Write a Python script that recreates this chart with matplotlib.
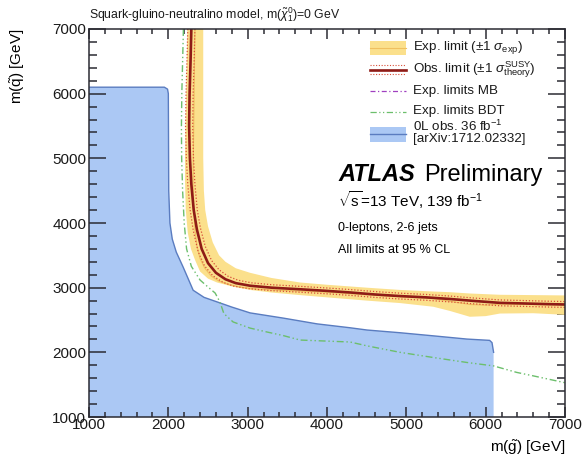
import matplotlib
matplotlib.use("Agg")
import matplotlib.pyplot as plt
from matplotlib.lines import Line2D
from matplotlib.patches import Rectangle

plt.rcParams['font.family'] = ['Liberation Sans', 'DejaVu Sans']
plt.rcParams['mathtext.fontset'] = 'custom'
plt.rcParams['mathtext.rm'] = 'Liberation Sans'
plt.rcParams['mathtext.it'] = 'Liberation Sans:italic'
plt.rcParams['mathtext.bf'] = 'Liberation Sans:bold'

# ---------------- data (m_gluino, m_squark) in GeV ----------------
blue_g = [1000, 1000, 1950, 1990, 2000, 2005, 2020, 2050, 2100, 2186, 2313, 2450, 2614, 2800,
          3030, 3446, 3875, 4290, 4505, 4921, 5340, 5765, 6050, 6080, 6100, 6100]
blue_q = [1000, 6100, 6100, 6070, 6000, 4500, 4000, 3750, 3550, 3320, 2960, 2850, 2780, 2700,
          2610, 2530, 2440, 2380, 2345, 2303, 2255, 2205, 2185, 2150, 2000, 1000]

band_up_g = [2440, 2440, 2440, 2448, 2465, 2500, 2560, 2640, 2720, 2850, 3030, 3300, 3660, 4000,
             4500, 4920, 5350, 5550, 5800, 6180, 6600, 7000]
band_up_q = [7000, 6000, 5000, 4500, 4200, 3950, 3700, 3500, 3400, 3300, 3230, 3150, 3080, 3045,
             3000, 2965, 2940, 2930, 2910, 2890, 2885, 2880]
band_dn_g = [2240, 2225, 2210, 2210, 2220, 2245, 2285, 2337, 2400, 2500, 2614, 2816, 3030, 3300,
             3660, 4000, 4500, 4920, 5340, 5550, 5800, 6000, 6180, 6600, 7000]
band_dn_q = [7000, 6000, 5000, 4663, 4200, 3850, 3600, 3427, 3250, 3140, 3080, 3015, 2965, 2925,
             2885, 2850, 2800, 2762, 2705, 2640, 2550, 2560, 2600, 2605, 2580]

exp_g = [2335, 2325, 2315, 2312, 2320, 2335, 2360, 2400, 2460, 2540, 2640, 2760, 2900, 3100,
         3400, 3700, 4000, 4500, 4920, 5350, 5550, 5800, 6000, 6200, 6600, 7000]
exp_q = [7000, 6000, 5000, 4600, 4200, 3900, 3650, 3450, 3300, 3180, 3100, 3050, 3010, 2980,
         2960, 2945, 2930, 2890, 2860, 2830, 2790, 2740, 2730, 2745, 2740, 2730]

obs_g = [2290, 2280, 2268, 2262, 2272, 2290, 2320, 2360, 2420, 2500, 2600, 2720, 2850, 3030,
         3300, 3660, 4000, 4300, 4600, 4920, 5250, 5550, 5850, 6180, 6500, 6800, 7000]
obs_q = [7000, 6500, 6000, 5500, 5000, 4600, 4200, 3900, 3600, 3380, 3230, 3130, 3070, 3030,
         3000, 2975, 2950, 2925, 2895, 2870, 2850, 2825, 2795, 2765, 2755, 2745, 2740]
obs_up_g = [2335, 2325, 2313, 2307, 2317, 2335, 2365, 2405, 2465, 2545, 2640, 2755, 2880, 3050,
            3310, 3665, 4000, 4300, 4600, 4920, 5250, 5550, 5850, 6180, 6500, 6800, 7000]
obs_up_q = [7000, 6500, 6000, 5500, 5000, 4600, 4200, 3920, 3640, 3420, 3275, 3175, 3115, 3075,
            3045, 3020, 2995, 2970, 2940, 2915, 2895, 2870, 2840, 2810, 2800, 2790, 2785]
obs_dn_g = [2245, 2235, 2223, 2217, 2227, 2245, 2275, 2315, 2375, 2455, 2560, 2685, 2820, 3010,
            3290, 3655, 4000, 4300, 4600, 4920, 5250, 5550, 5850, 6180, 6500, 6800, 7000]
obs_dn_q = [7000, 6500, 6000, 5500, 5000, 4600, 4200, 3880, 3560, 3340, 3185, 3085, 3025, 2985,
            2955, 2930, 2905, 2880, 2850, 2825, 2805, 2780, 2750, 2720, 2710, 2700, 2695]

mb_g = [2320, 2310, 2300, 2300, 2310, 2330, 2360, 2410, 2480, 2580, 2700, 2850, 3100, 3500,
        4000, 4500, 5000, 5500, 6000, 6500, 7000]
mb_q = [7000, 6000, 5000, 4500, 4100, 3800, 3580, 3400, 3260, 3150, 3080, 3030, 2990, 2960,
        2930, 2890, 2850, 2800, 2760, 2750, 2740]

bdt_g = [2190, 2180, 2170, 2165, 2168, 2180, 2200, 2230, 2290, 2400, 2500, 2590, 2650, 2700,
         2816, 3030, 3245, 3446, 3660, 4077, 4290, 4505, 4921, 5340, 5765, 6100, 6390, 6600, 7000]
bdt_q = [7000, 6500, 6000, 5500, 5000, 4500, 4000, 3600, 3330, 3118, 3010, 2917, 2780, 2600,
         2470, 2375, 2314, 2260, 2190, 2170, 2160, 2100, 2000, 1920, 1843, 1790, 1690, 1636, 1530]

x_ticks = [1000, 2000, 3000, 4000, 5000, 6000, 7000]
y_ticks = [1000, 2000, 3000, 4000, 5000, 6000, 7000]

# ---------------- styling ----------------
c_blue_fill = '#abc8f4'
c_blue_edge = '#5a7cc0'
c_yellow = '#fbe08c'
c_exp = '#f0c060'
c_obs = '#8e1b16'
c_theory = '#d8503a'
c_mb = '#a040c0'
c_bdt = '#6cbf6c'
c_axis = '#2b2b33'

W, H = 585, 461
fig = plt.figure(figsize=(W / 100, H / 100), dpi=100)
L, R, B, T = 89, 565, 417, 29
ax = fig.add_axes([L / W, (H - B) / H, (R - L) / W, (B - T) / H])
ax.set_xlim(1000, 7000)
ax.set_ylim(1000, 7000)

ax.fill(blue_g, blue_q, facecolor=c_blue_fill, edgecolor='none', zorder=1)
ax.plot(blue_g[1:-1], blue_q[1:-1], color=c_blue_edge, lw=1.0, zorder=2)

ax.plot(mb_g, mb_q, color=c_mb, lw=0.9, dashes=[4, 2, 1, 2], zorder=2.5)

band_g = band_up_g + band_dn_g[::-1]
band_q = band_up_q + band_dn_q[::-1]
ax.fill(band_g, band_q, facecolor=c_yellow, edgecolor='none', zorder=3)
ax.plot(exp_g, exp_q, color=c_exp, lw=0.8, zorder=3.5)

ax.plot(bdt_g, bdt_q, color=c_bdt, lw=1.0, dashes=[5, 2, 1, 2, 1, 2], zorder=3.6)

ax.plot(obs_up_g, obs_up_q, color=c_theory, lw=0.9, ls=(0, (1, 1.5)), zorder=4)
ax.plot(obs_dn_g, obs_dn_q, color=c_theory, lw=0.9, ls=(0, (1, 1.5)), zorder=4)
ax.plot(obs_g, obs_q, color=c_obs, lw=1.9, zorder=5, solid_capstyle='butt')

# axes / ticks
ax.set_xticks(x_ticks)
ax.set_yticks(y_ticks)
ax.set_xticks(range(1000, 7001, 200), minor=True)
ax.set_yticks(range(1000, 7001, 200), minor=True)
ax.tick_params(axis='both', which='both', direction='in', top=True, right=True,
               color=c_axis, width=1.1, labelsize=11, labelcolor='#1a1a1a')
ax.tick_params(axis='x', which='major', length=7.5, pad=1)
ax.tick_params(axis='x', which='minor', length=3.8)
ax.tick_params(axis='y', which='major', length=12, pad=2)
ax.tick_params(axis='y', which='minor', length=6)
for s in ax.spines.values():
    s.set_color(c_axis)
    s.set_linewidth(1.1)
    s.set_zorder(10)

ax.set_xlabel(r"m($\tilde{\mathrm{g}}$) [GeV]", fontsize=11, loc='right', labelpad=4)
ax.set_ylabel(r"m($\tilde{\mathrm{q}}$) [GeV]", fontsize=11, loc='top', labelpad=18)

fig.text(L / W, 1 - 18 / H,
         r"Squark-gluino-neutralino model, m($\tilde{\chi}_1^0$)=0 GeV",
         fontsize=8.8, ha='left', va='baseline', color='#1a1a1a')

# ---------------- legend (manual) ----------------
def ax_xy(px, py):
    return (px - L) / (R - L), (B - py) / (B - T)

tr = ax.transAxes
x0, y0 = ax_xy(370, 55)
x1, y1 = ax_xy(406, 41)
ax.add_patch(Rectangle((x0, y0), x1 - x0, y1 - y0, transform=tr, facecolor=c_yellow,
                       edgecolor='none', zorder=11))
xa, ym = ax_xy(370, 48)
xb, _ = ax_xy(406, 48)
ax.add_line(Line2D([xa, xb], [ym, ym], transform=tr, color=c_exp, lw=0.8, zorder=12))

_, yo = ax_xy(0, 70)
_, you = ax_xy(0, 65.5)
_, yod = ax_xy(0, 74.5)
ax.add_line(Line2D([xa, xb], [yo, yo], transform=tr, color=c_obs, lw=1.9, zorder=12))
ax.add_line(Line2D([xa, xb], [you, you], transform=tr, color=c_theory, lw=0.8, ls=(0, (1, 1.5)), zorder=12))
ax.add_line(Line2D([xa, xb], [yod, yod], transform=tr, color=c_theory, lw=0.8, ls=(0, (1, 1.5)), zorder=12))

_, ymb = ax_xy(0, 91)
ax.add_line(Line2D([xa, xb], [ymb, ymb], transform=tr, color=c_mb, lw=0.9, dashes=[4, 2, 1, 2], zorder=12))
_, ybd = ax_xy(0, 112)
ax.add_line(Line2D([xa, xb], [ybd, ybd], transform=tr, color=c_bdt, lw=0.9, dashes=[5, 2, 1, 2, 1, 2], zorder=12))

bx0, by0 = ax_xy(370, 142)
bx1, by1 = ax_xy(406, 127)
ax.add_patch(Rectangle((bx0, by0), bx1 - bx0, by1 - by0, transform=tr, facecolor=c_blue_fill,
                       edgecolor='none', zorder=11))
_, ybl = ax_xy(0, 134.5)
ax.add_line(Line2D([xa, xb], [ybl, ybl], transform=tr, color=c_blue_edge, lw=1.0, zorder=12))

tx, _ = ax_xy(413, 0)
leg_fs = 9.6
def ltext(py, s):
    _, yy = ax_xy(0, py)
    ax.text(tx, yy, s, transform=tr, fontsize=leg_fs, ha='left', va='center', color='#1a1a1a', zorder=12)

ltext(48, r"Exp. limit ($\pm$1 $\sigma_{\mathrm{exp}}$)")
ltext(70, r"Obs. limit ($\pm$1 $\sigma^{\mathrm{SUSY}}_{\mathrm{theory}}$)")
ltext(91, "Exp. limits MB")
ltext(111, "Exp. limits BDT")
ltext(126, r"0L obs. 36 fb$^{\mathrm{-1}}$")
ltext(139, "[arXiv:1712.02332]")

# ---------------- ATLAS label ----------------
ax_, ay_ = ax_xy(338, 181)
ax.text(ax_, ay_, "ATLAS", transform=tr, fontsize=17, fontweight='bold', fontstyle='italic',
        ha='left', va='baseline', color='black', zorder=12)
px_, _ = ax_xy(424, 181)
ax.text(px_, ay_, "Preliminary", transform=tr, fontsize=17, ha='left', va='baseline',
        color='black', zorder=12)
_, y2 = ax_xy(0, 207)
ax.text(ax_, y2, r"$\sqrt{\mathrm{s}}$=13 TeV, 139 fb$^{\mathrm{-1}}$", transform=tr, fontsize=11,
        ha='left', va='baseline', color='black', zorder=12)
_, y3 = ax_xy(0, 231)
ax.text(ax_, y3, "0-leptons, 2-6 jets", transform=tr, fontsize=9, ha='left', va='baseline',
        color='black', zorder=12)
_, y4 = ax_xy(0, 253)
ax.text(ax_, y4, "All limits at 95 % CL", transform=tr, fontsize=9, ha='left', va='baseline',
        color='black', zorder=12)

fig.savefig("out.png", dpi=100, facecolor='white')
